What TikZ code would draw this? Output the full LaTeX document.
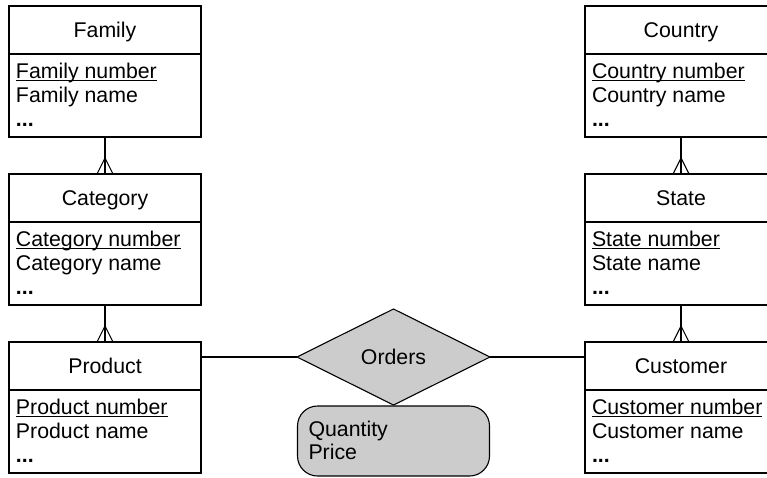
\documentclass[tikz,border=0pt]{standalone}
\usepackage{fontspec}
\setmainfont{Liberation Sans}
\usetikzlibrary{shapes.geometric,calc}
\definecolor{fillgray}{HTML}{CCCCCC}
\newcommand\erentity[6]{%
  \node[hdr] (#1h) at (#2,#3+24) {#4};
  \node[bdy] (#1b) at (#1h.south) {};
  \node[attr] (#1k) at ($(#1b.north west)+(7,24)$) {#5};
  \draw[line width=1.1pt] ([yshift=-2.2pt]#1k.base west) -- ([yshift=-2.2pt]#1k.base east);
  \node[attr] (#1n) at ($(#1b.north west)+(7,48.5)$) {#6};
  \node[attr,font=\fontsize{21.3}{24}\selectfont\bfseries] (#1d) at ($(#1b.north west)+(7,72)$) {...};
}
\newcommand\crowlink[2]{%
  \draw (#1.south) -- (#2.north);
  \draw ($(#2.north)+(-8,0)$) -- ($(#2.north)+(0,-16)$) -- ($(#2.north)+(8,0)$);
}
\tikzset{
  hdr/.style={draw, minimum width=192pt, minimum height=48pt, inner sep=0pt, outer sep=0pt,
    text height=15pt, text depth=0pt, anchor=center},
  bdy/.style={draw, minimum width=192pt, minimum height=83pt, inner sep=0pt, outer sep=0pt, anchor=north},
  attr/.style={anchor=base west, inner sep=0pt, outer sep=0pt},
  relshape/.style={diamond, draw, fill=fillgray, minimum width=193pt, minimum height=96pt,
    inner sep=0pt, outer sep=0pt},
  relattr/.style={draw, fill=fillgray, rounded corners=20pt, minimum width=192pt,
    minimum height=70pt, inner sep=0pt, outer sep=0pt, anchor=north}
}
\begin{document}
\begin{tikzpicture}[x=1pt, y=-1pt, line width=1.1pt, font=\fontsize{21.3}{24}\selectfont]
\useasboundingbox (0,0) rectangle (767,477);
\erentity{fam}{105}{6}{Family}{Family number}{Family name}
\erentity{cat}{105}{174}{Category}{Category number}{Category name}
\erentity{prod}{105}{342}{Product}{Product number}{Product name}
\erentity{cty}{681}{6}{Country}{Country number}{Country name}
\erentity{sta}{681}{174}{State}{State number}{State name}
\erentity{cust}{681}{342}{Customer}{Customer number}{Customer name}
\crowlink{famb}{cath}
\crowlink{catb}{prodh}
\crowlink{ctyb}{stah}
\crowlink{stab}{custh}
\node[relshape] (orders) at (393.5,357) {Orders};
\node[relattr] (oattr) at ([yshift=-1pt]orders.south) {};
\node[attr] (qty) at ($(oattr.north west)+(11,30)$) {Quantity};
\node[attr] (price) at ($(oattr.north west)+(11,53)$) {Price};
\draw (prodh.east |- orders.west) -- (orders.west);
\draw (orders.east) -- (orders.east -| custh.west);
\end{tikzpicture}
\end{document}
